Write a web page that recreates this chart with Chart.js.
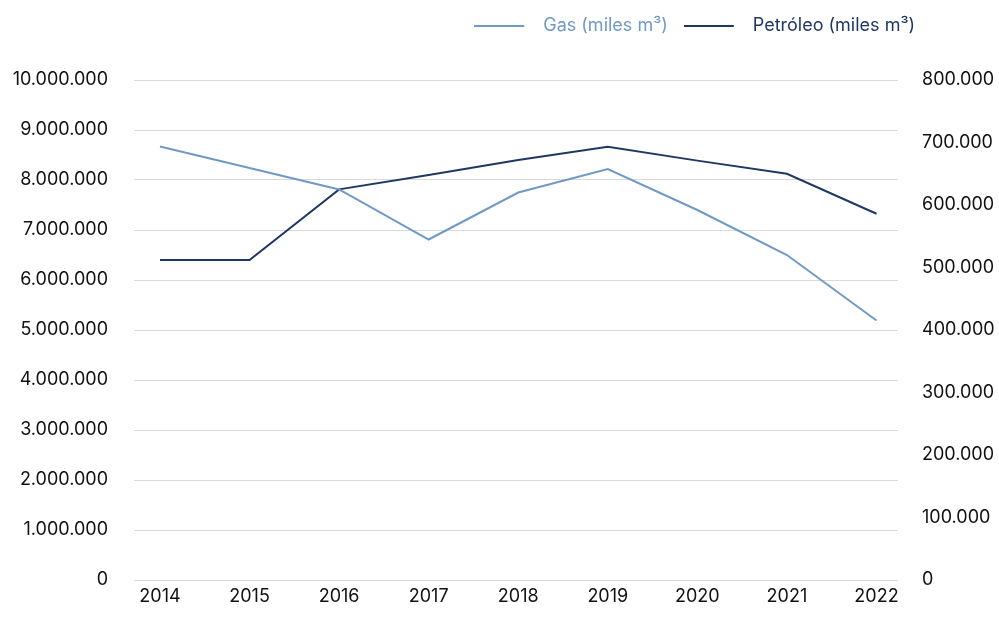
<!DOCTYPE html>
<html>
<head>
<meta charset="utf-8">
<script src="https://cdn.jsdelivr.net/npm/chart.js@4.4.1/dist/chart.umd.min.js"></script>
<style>
  html, body { margin: 0; padding: 0; background: #ffffff; }
  #wrap { width: 999px; height: 632px; position: relative; }
</style>
</head>
<body>
<div id="wrap"><canvas id="lineChart"></canvas></div>
<script>
const years = ['2014', '2015', '2016', '2017', '2018', '2019', '2020', '2021', '2022'];
const gasValues = [8670000, 8240000, 7810000, 6810000, 7750000, 8220000, 7400000, 6500000, 5190000];
const petroleoValues = [512000, 512000, 625000, 648000, 672000, 693000, 671000, 650000, 586000];
const leftTicks = [0, 1000000, 2000000, 3000000, 4000000, 5000000, 6000000, 7000000, 8000000, 9000000, 10000000];
const rightTicks = [0, 100000, 200000, 300000, 400000, 500000, 600000, 700000, 800000];

const gasColor = '#7099c6';
const petroleoColor = '#1f3863';
const fontFamily = 'Inter, "Noto Sans", sans-serif';

const fmt = (v) => String(Math.round(v)).replace(/\B(?=(\d{3})+(?!\d))/g, '.');

const toPoints = (values) => values.map((v, i) => ({ x: i, y: v }));

// legend marker: a 50px line with some empty room after it
const lineMarker = (color) => {
    const c = document.createElement('canvas');
    c.width = 60;
    c.height = 2;
    const g = c.getContext('2d');
    g.fillStyle = color;
    g.fillRect(0, 0, 50, 2);
    return c;
};

// move the legend to where the reference has it (top right, above the plot)
const legendPlace = {
    id: 'legendPlace',
    afterLayout(chart) {
        const lg = chart.legend;
        if (!lg) return;
        const dx = 931 - lg.right;
        const dy = 1 - lg.top;
        lg.left += dx; lg.right += dx;
        lg.top += dy; lg.bottom += dy;
    }
};

const ctx = document.getElementById('lineChart').getContext('2d');
const myChart = new Chart(ctx, {
    type: 'line',
    data: {
        datasets: [{
            label: 'Gas (miles m³)',
            data: toPoints(gasValues),
            borderColor: gasColor,
            backgroundColor: gasColor,
            borderWidth: 2,
            pointRadius: 0,
            tension: 0,
            yAxisID: 'y'
        }, {
            label: 'Petróleo (miles m³)',
            data: toPoints(petroleoValues),
            borderColor: petroleoColor,
            backgroundColor: petroleoColor,
            borderWidth: 2,
            pointRadius: 0,
            tension: 0,
            yAxisID: 'y1'
        }]
    },
    plugins: [legendPlace],
    options: {
        responsive: true,
        maintainAspectRatio: false,
        animation: false,
        layout: { padding: { top: 36, bottom: 0, left: 0, right: 0 } },
        plugins: {
            title: { display: false },
            tooltip: { enabled: false },
            legend: {
                display: true,
                position: 'top',
                align: 'end',
                labels: {
                    usePointStyle: true,
                    pointStyleWidth: 60,
                    padding: 16,
                    font: { family: fontFamily, size: 18 },
                    generateLabels: (chart) => chart.data.datasets.map((ds, i) => ({
                        text: ds.label,
                        fillStyle: ds.borderColor,
                        strokeStyle: ds.borderColor,
                        lineWidth: 0,
                        pointStyle: lineMarker(ds.borderColor),
                        fontColor: ds.borderColor,
                        hidden: false,
                        datasetIndex: i
                    }))
                }
            }
        },
        scales: {
            x: {
                type: 'linear',
                min: -0.29,
                max: 8.24,
                grid: { display: false, drawTicks: false },
                border: { display: false },
                afterBuildTicks: (scale) => {
                    scale.ticks = years.map((y, i) => ({ value: i }));
                },
                afterFit: (scale) => { scale.height = 52; },
                ticks: {
                    padding: 6,
                    color: '#111111',
                    font: { family: fontFamily, size: 18 },
                    callback: (value) => years[value]
                }
            },
            y: {
                position: 'left',
                min: 0,
                max: 10000000,
                grid: { color: '#d9d9d9', lineWidth: 1, drawTicks: false },
                border: { display: false },
                afterFit: (scale) => { scale.width = 134; },
                afterBuildTicks: (scale) => {
                    scale.ticks = leftTicks.map(v => ({ value: v }));
                },
                ticks: {
                    padding: 26,
                    color: '#111111',
                    font: { family: fontFamily, size: 18 },
                    callback: (value) => fmt(value)
                }
            },
            y1: {
                position: 'right',
                min: 0,
                max: 800000,
                grid: { display: false, drawTicks: false },
                border: { display: false },
                afterFit: (scale) => { scale.width = 101; },
                afterBuildTicks: (scale) => {
                    scale.ticks = rightTicks.map(v => ({ value: v }));
                },
                ticks: {
                    padding: 24,
                    color: '#111111',
                    font: { family: fontFamily, size: 18 },
                    callback: (value) => fmt(value)
                }
            }
        }
    }
});
</script>
</body>
</html>
